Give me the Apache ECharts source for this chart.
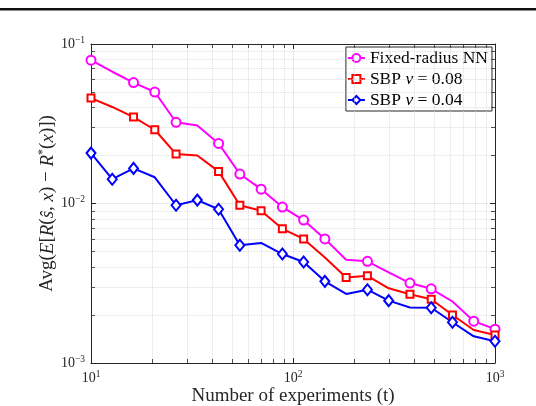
<!DOCTYPE html>
<html>
<head>
<meta charset="utf-8">
<script src="https://cdn.jsdelivr.net/npm/echarts@6/dist/echarts.min.js"></script>
<style>
  html, body { margin: 0; padding: 0; background: #fff; }
  #chart-container { width: 536px; height: 406px; }
</style>
</head>
<body>
<div id="chart-container"></div>
<script>
// experiments t (log-spaced, 20 points)
var tValues = [10, 12.74, 16.24, 20.69, 26.37, 33.6, 42.81, 54.56, 69.52, 88.59,
  112.88, 143.84, 183.3, 233.57, 297.64, 379.27, 483.29, 615.85, 784.76, 1000];

var fixedRadius = [0.0792, 0.067, 0.0573, 0.050, 0.0323, 0.0308, 0.0238, 0.0153, 0.0123, 0.0095,
  0.00787, 0.0060, 0.00444, 0.00434, 0.0037, 0.00317, 0.00292, 0.00243, 0.00183, 0.00163];
var sbp08 = [0.0458, 0.0403, 0.0348, 0.029, 0.0204, 0.0200, 0.0159, 0.00975, 0.0090, 0.00694,
  0.0060, 0.00459, 0.00344, 0.00352, 0.00294, 0.00270, 0.00251, 0.00200, 0.00161, 0.00150];
var sbp04 = [0.0207, 0.0142, 0.0166, 0.0146, 0.00975, 0.0105, 0.0092, 0.00547, 0.00566, 0.00482,
  0.0043, 0.00325, 0.00271, 0.00288, 0.00246, 0.00223, 0.00222, 0.00180, 0.00147, 0.00137];

// points drawn without a marker
var fixedRadiusNoMark = [1, 5, 12, 14, 17];
var sbp08NoMark = [1, 5, 11, 14, 18];
var sbp04NoMark = [3, 8, 12, 15, 18];

var seriesNames = ['Fixed-radius NN', 'SBP v = 0.08', 'SBP v = 0.04'];

var xRange = [10, 1000];
var yRange = [0.001, 0.1];

var serif = 'Liberation Serif';
var axisColor = '#262626';

var dom = document.getElementById('chart-container');
var myChart = echarts.init(dom, null, { renderer: 'canvas' });

function pts(ys, noMark) {
  return ys.map(function (y, i) {
    var item = { value: [tValues[i], y] };
    if (noMark.indexOf(i) >= 0) item.symbol = 'none';
    return item;
  });
}

function powLabel(v) {
  var e = Math.round(Math.log10(v));
  return '10{s|' + (e < 0 ? '\u2212' + (-e) : e) + '}';
}

var labelRich = {
  s: { fontSize: 9.5, fontFamily: serif, color: axisColor, padding: [0, 0, 8, 0] }
};

// minor grid lines and minor ticks at 2..9 of each decade
var gridLines = [];
var tickLines = [];
var dx = Math.pow(10, 4 / 202), dy = Math.pow(10, 4 / 159);
[10, 100].forEach(function (d) {
  for (var k = 2; k <= 9; k++) {
    var x = k * d;
    gridLines.push([{ coord: [x, yRange[0]] }, { coord: [x, yRange[1]] }]);
    tickLines.push([{ coord: [x, yRange[0]] }, { coord: [x, yRange[0] * dy] }]);
    tickLines.push([{ coord: [x, yRange[1]] }, { coord: [x, yRange[1] / dy] }]);
  }
});
[0.001, 0.01].forEach(function (d) {
  for (var k = 2; k <= 9; k++) {
    var y = k * d;
    gridLines.push([{ coord: [xRange[0], y] }, { coord: [xRange[1], y] }]);
    tickLines.push([{ coord: [xRange[0], y] }, { coord: [xRange[0] * dx, y] }]);
    tickLines.push([{ coord: [xRange[1], y] }, { coord: [xRange[1] / dx, y] }]);
  }
});

function lineSeries(name, data, noMark, color, symbol, size) {
  return {
    name: name,
    type: 'line',
    data: pts(data, noMark),
    symbol: symbol,
    symbolSize: size,
    showAllSymbol: true,
    z: 5,
    lineStyle: { color: color, width: 2 },
    itemStyle: { color: color, borderColor: color, borderWidth: 1.6 },
    emphasis: { disabled: true },
    animation: false
  };
}

var option = {
  animation: false,
  grid: { left: 91, right: 41, top: 44, bottom: 43, containLabel: false, outerBoundsMode: 'none' },
  graphic: [{
    type: 'rect',
    shape: { x: 0, y: 8, width: 536, height: 2.6 },
    style: { fill: '#111' }
  }],
  xAxis: [{
    type: 'log', logBase: 10, min: xRange[0], max: xRange[1],
    position: 'bottom',
    name: 'Number of experiments (t)',
    nameLocation: 'middle', nameGap: 24, nameMoveOverlap: false,
    nameTextStyle: { fontFamily: serif, fontSize: 19, color: axisColor },
    axisLine: { lineStyle: { color: axisColor, width: 1 } },
    axisTick: { inside: true, length: 5, lineStyle: { color: axisColor } },
    axisLabel: {
      formatter: powLabel, margin: 6,
      fontFamily: serif, fontSize: 14, color: axisColor, rich: labelRich
    },
    splitLine: { show: true, lineStyle: { color: '#e4e4e4', width: 0.8 } }
  }, {
    type: 'log', logBase: 10, min: xRange[0], max: xRange[1],
    position: 'top',
    axisLine: { lineStyle: { color: axisColor, width: 1 } },
    axisTick: { inside: true, length: 5, lineStyle: { color: axisColor } },
    axisLabel: { show: false },
    splitLine: { show: false }
  }],
  yAxis: [{
    type: 'log', logBase: 10, min: yRange[0], max: yRange[1],
    position: 'left',
    name: 'Avg({i|E}[{i|R}({i|\u015D}, {i|x}) \u2212 {i|R}{sup|*}({i|x})])',
    nameLocation: 'middle', nameGap: 33, nameMoveOverlap: false,
    nameTextStyle: {
      fontFamily: serif, fontSize: 19, color: axisColor,
      rich: {
        i: { fontFamily: serif, fontSize: 19, fontStyle: 'italic', color: axisColor },
        sup: { fontFamily: serif, fontSize: 12, color: axisColor, padding: [0, 0, 9, 0] }
      }
    },
    axisLine: { show: true, lineStyle: { color: axisColor, width: 1 } },
    axisTick: { show: true, inside: true, length: 5, lineStyle: { color: axisColor } },
    axisLabel: {
      formatter: powLabel, margin: 6,
      fontFamily: serif, fontSize: 14, color: axisColor, rich: labelRich
    },
    splitLine: { show: true, lineStyle: { color: '#e4e4e4', width: 0.8 } }
  }, {
    type: 'log', logBase: 10, min: yRange[0], max: yRange[1],
    position: 'right',
    axisLine: { show: true, lineStyle: { color: axisColor, width: 1 } },
    axisTick: { show: true, inside: true, length: 5, lineStyle: { color: axisColor } },
    axisLabel: { show: false },
    splitLine: { show: false }
  }],
  legend: {
    data: seriesNames,
    orient: 'vertical',
    right: 44, top: 47,
    backgroundColor: '#fff',
    borderColor: axisColor, borderWidth: 1,
    padding: [2, 4, 2, 1],
    itemGap: 3,
    itemWidth: 17, itemHeight: 10,
    formatter: function (name) { return name.replace(' v ', ' {i|v} '); },
    textStyle: {
      fontFamily: serif, fontSize: 17.5, lineHeight: 18, color: '#000',
      rich: { i: { fontFamily: serif, fontSize: 17.5, lineHeight: 18, fontStyle: 'italic', color: '#000' } }
    }
  },
  series: [{
    name: 'grid',
    type: 'line',
    data: [],
    z: 1,
    silent: true,
    markLine: {
      silent: true, symbol: ['none', 'none'], label: { show: false },
      animation: false,
      lineStyle: { color: '#d2d2d2', type: 'dotted', width: 0.8 },
      emphasis: { disabled: true },
      data: gridLines
    }
  }, {
    name: 'ticks',
    type: 'line',
    data: [],
    z: 2,
    silent: true,
    markLine: {
      silent: true, symbol: ['none', 'none'], label: { show: false },
      animation: false,
      lineStyle: { color: axisColor, type: 'solid', width: 0.8 },
      emphasis: { disabled: true },
      data: tickLines
    }
  },
  lineSeries(seriesNames[0], fixedRadius, fixedRadiusNoMark, '#ff00ff', 'emptyCircle', 9),
  lineSeries(seriesNames[1], sbp08, sbp08NoMark, '#ff0000', 'emptyRect', 7),
  lineSeries(seriesNames[2], sbp04, sbp04NoMark, '#0000ff', 'emptyDiamond', [9, 11])
  ]
};

if (option && typeof option === 'object') {
  myChart.setOption(option);
}

window.addEventListener('resize', myChart.resize);
</script>
</body>
</html>
